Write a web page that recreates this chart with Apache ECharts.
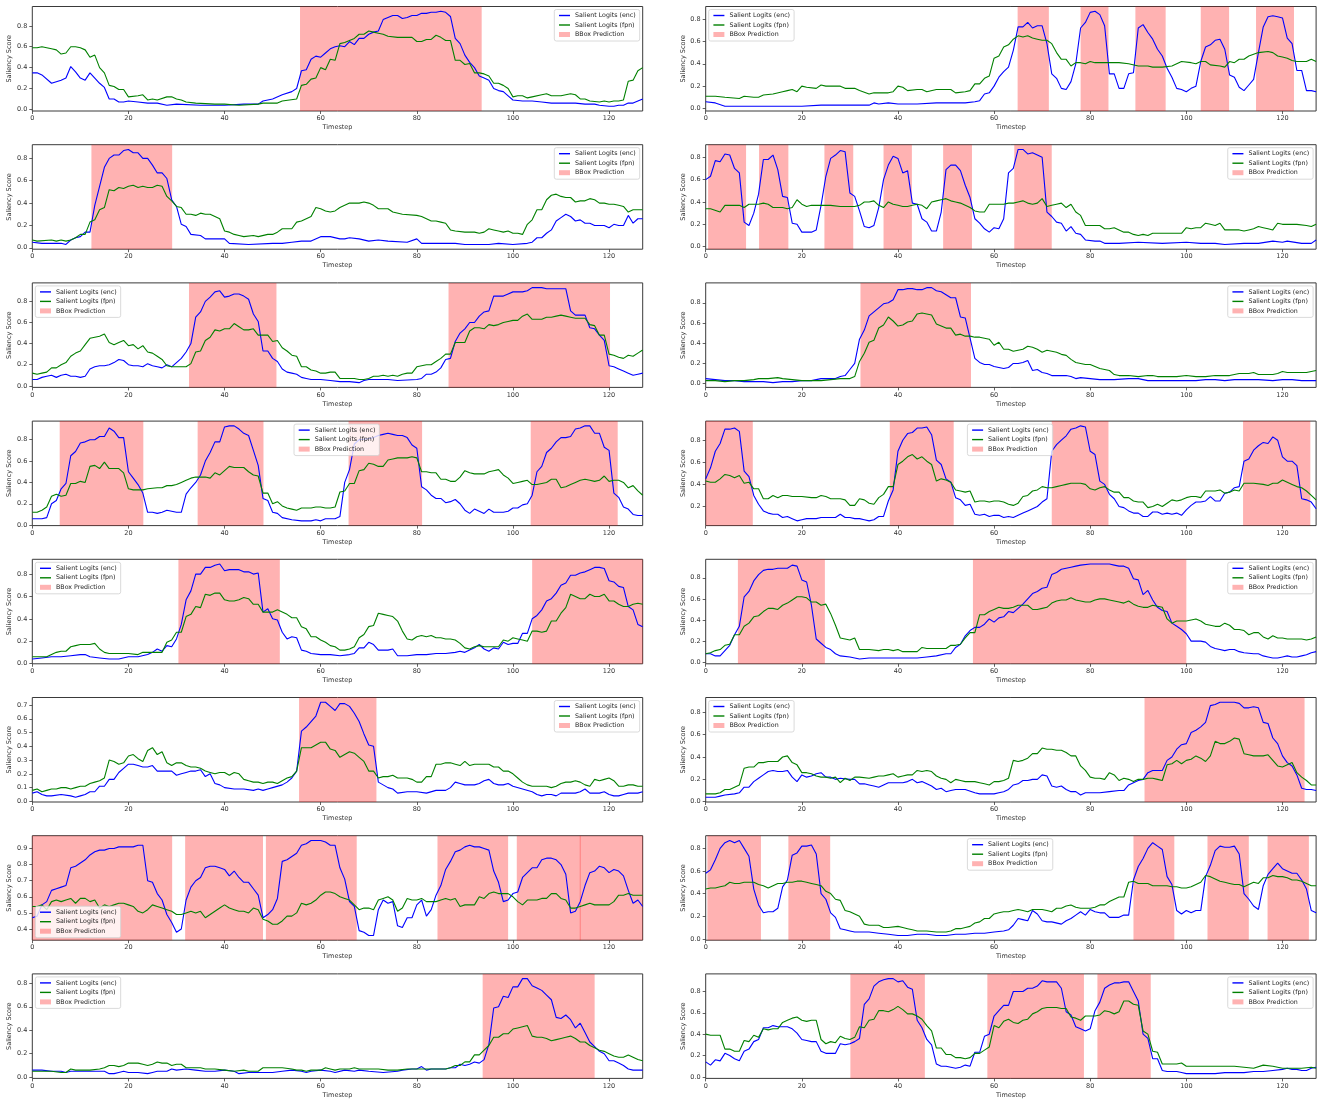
<!DOCTYPE html>
<html><head><meta charset="utf-8">
<script src="https://cdn.jsdelivr.net/npm/echarts@6/dist/echarts.min.js"></script>
<style>html,body{margin:0;padding:0;background:#fff}#c{width:1323px;height:1101px}</style>
</head><body><div id="c"></div>
<script>
// ---- data: [timestep, score] ----
const encL1=[[0,.35],[1,.35],[2,.33],[4,.25],[6,.28],[7,.30],[8,.41],[9,.36],[10,.30],[11,.28],[12,.35],[13,.30],[14,.25],[15,.21],[16,.10],[17,.10],[18,.07],[19,.07],[20,.08],[22,.07],[24,.06],[26,.06],[28,.04],[30,.05],[35,.04],[40,.04],[44,.05],[47,.05],[48,.08],[50,.10],[52,.14],[54,.17],[55,.20],[56,.37],[57,.38],[58,.48],[59,.51],[60,.50],[61,.54],[62,.58],[63,.60],[64,.61],[65,.60],[66,.65],[67,.62],[68,.68],[69,.68],[70,.72],[71,.74],[72,.75],[73,.86],[74,.88],[75,.90],[76,.90],[77,.87],[78,.88],[79,.90],[80,.90],[81,.92],[82,.92],[83,.93],[84,.93],[85,.94],[86,.93],[87,.89],[88,.68],[89,.63],[90,.52],[91,.45],[92,.40],[93,.32],[94,.30],[95,.28],[96,.20],[97,.18],[98,.17],[99,.13],[100,.09],[102,.08],[104,.08],[106,.07],[108,.06],[110,.06],[113,.06],[115,.05],[117,.05],[118,.04],[120,.03],[121,.03],[122,.04],[123,.04],[124,.06],[125,.06],[126,.08],[127,.10]];
const fpnL1=[[0,.59],[1,.59],[2,.60],[3,.59],[4,.58],[5,.57],[6,.53],[7,.54],[8,.60],[9,.60],[10,.59],[11,.57],[12,.50],[13,.52],[14,.40],[15,.35],[16,.23],[17,.22],[18,.19],[19,.19],[20,.12],[22,.13],[23,.14],[24,.09],[25,.10],[26,.09],[28,.12],[29,.12],[30,.10],[31,.09],[32,.07],[34,.06],[38,.05],[40,.05],[43,.04],[47,.05],[48,.06],[51,.06],[52,.08],[55,.10],[56,.23],[57,.24],[58,.29],[59,.30],[60,.40],[61,.38],[62,.48],[63,.47],[64,.63],[65,.64],[66,.66],[67,.68],[68,.72],[69,.72],[70,.75],[71,.74],[72,.73],[73,.72],[74,.70],[76,.69],[78,.69],[79,.69],[80,.65],[81,.65],[82,.67],[83,.67],[84,.71],[85,.69],[86,.66],[87,.66],[88,.47],[89,.47],[90,.43],[91,.44],[92,.35],[93,.35],[94,.34],[95,.32],[96,.25],[97,.25],[98,.23],[99,.20],[100,.12],[101,.13],[102,.13],[103,.11],[104,.12],[106,.14],[107,.15],[108,.13],[110,.13],[112,.15],[113,.14],[114,.10],[115,.10],[116,.08],[118,.07],[119,.08],[120,.07],[121,.08],[122,.08],[123,.09],[124,.27],[125,.28],[126,.37],[127,.40]];
const boxL1=[[55.7,93.5]];

const encR1=[[0,.06],[2,.05],[4,.02],[10,.02],[14,.02],[20,.02],[24,.03],[30,.03],[34,.03],[35,.05],[36,.04],[38,.05],[40,.04],[44,.04],[48,.05],[54,.05],[56,.06],[57,.07],[58,.13],[59,.14],[60,.20],[61,.28],[62,.33],[63,.37],[64,.52],[65,.73],[66,.73],[67,.77],[68,.72],[69,.74],[70,.74],[71,.58],[72,.31],[73,.27],[74,.18],[75,.17],[76,.24],[77,.40],[78,.72],[79,.77],[80,.86],[81,.87],[82,.84],[83,.74],[84,.31],[85,.31],[86,.18],[87,.18],[88,.31],[89,.32],[90,.72],[91,.75],[92,.68],[93,.62],[94,.53],[95,.47],[96,.36],[97,.28],[98,.18],[99,.17],[100,.15],[101,.18],[102,.20],[103,.42],[104,.55],[105,.57],[106,.61],[107,.62],[108,.53],[109,.30],[110,.28],[111,.19],[112,.16],[113,.21],[114,.26],[115,.50],[116,.73],[117,.82],[118,.83],[119,.82],[120,.81],[121,.63],[122,.58],[123,.34],[124,.34],[125,.16],[126,.16],[127,.15]];
const fpnR1=[[0,.11],[2,.11],[4,.10],[7,.09],[8,.11],[10,.10],[11,.10],[12,.12],[14,.13],[16,.15],[17,.16],[18,.17],[19,.15],[20,.20],[21,.19],[23,.18],[24,.21],[25,.20],[28,.20],[29,.18],[31,.18],[32,.16],[34,.13],[35,.14],[38,.14],[39,.15],[40,.20],[41,.19],[42,.16],[44,.17],[45,.17],[46,.15],[48,.17],[51,.17],[52,.14],[54,.15],[55,.16],[56,.22],[57,.22],[58,.27],[59,.29],[60,.45],[61,.47],[62,.55],[63,.57],[64,.62],[65,.65],[66,.64],[67,.65],[68,.63],[69,.62],[70,.61],[71,.61],[72,.58],[73,.50],[74,.44],[75,.44],[76,.38],[77,.41],[78,.41],[79,.40],[80,.42],[81,.41],[82,.41],[84,.41],[86,.41],[88,.40],[90,.38],[92,.38],[93,.37],[95,.37],[97,.38],[99,.42],[101,.41],[102,.40],[103,.42],[104,.42],[105,.39],[107,.38],[108,.37],[109,.42],[110,.41],[111,.44],[112,.44],[113,.47],[115,.50],[117,.51],[118,.50],[119,.47],[120,.46],[121,.45],[122,.43],[123,.42],[125,.42],[126,.44],[127,.42]];
const boxR1=[[64.9,71.4],[78.0,83.8],[89.4,95.7],[103.0,108.9],[114.5,122.4]];

const encL2=[[0,.05],[2,.04],[6,.04],[7,.03],[8,.07],[9,.09],[10,.10],[11,.14],[12,.14],[13,.38],[14,.55],[15,.72],[16,.80],[17,.83],[18,.83],[19,.87],[20,.88],[21,.85],[22,.85],[23,.80],[24,.80],[25,.74],[26,.67],[27,.67],[28,.62],[29,.43],[30,.37],[31,.21],[32,.19],[33,.12],[35,.11],[36,.08],[40,.08],[41,.04],[45,.03],[50,.04],[52,.04],[54,.05],[56,.06],[58,.06],[60,.10],[62,.10],[64,.08],[65,.08],[66,.09],[68,.08],[70,.06],[72,.07],[74,.06],[78,.05],[80,.08],[81,.04],[85,.04],[88,.04],[90,.03],[95,.03],[97,.04],[100,.03],[103,.04],[104,.05],[105,.09],[106,.09],[107,.13],[108,.16],[109,.24],[110,.27],[111,.30],[112,.28],[113,.24],[114,.25],[115,.22],[116,.22],[117,.20],[118,.20],[119,.20],[120,.18],[121,.21],[122,.20],[123,.20],[124,.29],[125,.22],[126,.26],[127,.26]];
const fpnL2=[[0,.07],[1,.06],[4,.07],[5,.06],[6,.07],[7,.06],[8,.07],[9,.09],[10,.12],[11,.12],[12,.23],[13,.25],[14,.34],[15,.36],[16,.52],[17,.51],[18,.54],[19,.53],[20,.55],[21,.56],[22,.54],[23,.55],[24,.54],[25,.54],[26,.56],[27,.55],[28,.46],[29,.42],[30,.37],[31,.36],[32,.30],[33,.30],[34,.29],[35,.31],[36,.30],[37,.30],[38,.28],[39,.26],[40,.15],[41,.14],[42,.12],[43,.11],[44,.10],[46,.11],[47,.10],[49,.12],[50,.12],[51,.14],[52,.17],[54,.17],[55,.23],[56,.24],[58,.28],[59,.36],[60,.35],[61,.33],[62,.32],[63,.33],[64,.36],[65,.38],[66,.40],[67,.40],[68,.40],[69,.41],[70,.40],[71,.38],[72,.35],[73,.35],[74,.35],[75,.32],[77,.30],[80,.29],[81,.28],[82,.26],[83,.24],[84,.24],[85,.23],[86,.22],[87,.16],[88,.15],[90,.14],[92,.14],[93,.13],[94,.14],[95,.17],[96,.16],[97,.15],[98,.14],[99,.15],[100,.13],[101,.13],[102,.12],[103,.21],[104,.25],[105,.34],[106,.34],[107,.43],[108,.47],[109,.48],[110,.46],[111,.45],[112,.45],[113,.41],[114,.42],[115,.42],[116,.44],[117,.43],[118,.40],[119,.40],[120,.39],[121,.39],[122,.38],[123,.37],[124,.32],[125,.34],[127,.34]];
const boxL2=[[12.3,29.1]];

const encR2=[[0,.60],[1,.63],[2,.77],[3,.76],[4,.83],[5,.82],[6,.70],[7,.66],[8,.22],[9,.19],[10,.30],[11,.47],[12,.78],[13,.78],[14,.82],[15,.69],[16,.45],[17,.44],[18,.21],[19,.20],[20,.13],[22,.13],[23,.15],[24,.37],[25,.63],[26,.79],[27,.82],[28,.86],[29,.85],[30,.48],[31,.45],[32,.32],[33,.18],[34,.17],[35,.19],[36,.35],[37,.60],[38,.73],[39,.81],[40,.79],[41,.66],[42,.68],[43,.39],[44,.38],[45,.25],[46,.22],[47,.14],[48,.14],[49,.31],[50,.69],[51,.73],[52,.73],[53,.68],[54,.55],[55,.44],[56,.25],[57,.21],[58,.16],[59,.13],[60,.17],[61,.16],[62,.25],[63,.66],[64,.70],[65,.87],[66,.87],[67,.83],[68,.84],[69,.82],[70,.80],[71,.31],[72,.27],[73,.22],[74,.21],[75,.14],[76,.18],[77,.12],[78,.11],[79,.06],[81,.05],[82,.05],[83,.03],[86,.03],[90,.04],[95,.03],[100,.04],[103,.03],[106,.03],[108,.02],[112,.03],[115,.03],[118,.05],[120,.04],[121,.05],[124,.03],[126,.03],[127,.06]];
const fpnR2=[[0,.34],[1,.34],[3,.31],[4,.37],[5,.37],[6,.37],[7,.37],[8,.35],[9,.38],[10,.38],[11,.38],[12,.39],[13,.38],[14,.35],[15,.35],[16,.35],[17,.34],[18,.35],[19,.42],[20,.38],[21,.36],[22,.37],[24,.37],[26,.37],[28,.36],[30,.36],[31,.36],[32,.37],[33,.40],[34,.40],[35,.41],[36,.37],[37,.35],[38,.40],[39,.38],[40,.37],[41,.36],[42,.36],[43,.37],[44,.38],[45,.37],[46,.34],[47,.40],[48,.41],[49,.42],[50,.43],[51,.41],[52,.40],[53,.39],[54,.37],[55,.35],[56,.32],[57,.31],[58,.31],[59,.38],[60,.38],[62,.38],[63,.39],[64,.39],[65,.40],[66,.41],[67,.39],[68,.38],[69,.39],[70,.43],[71,.36],[72,.37],[73,.38],[74,.39],[75,.35],[76,.38],[77,.31],[78,.28],[79,.19],[80,.19],[81,.19],[82,.19],[83,.16],[84,.16],[85,.17],[86,.15],[87,.13],[88,.13],[89,.11],[90,.10],[91,.11],[92,.10],[93,.12],[95,.12],[97,.12],[99,.12],[100,.17],[101,.16],[102,.17],[103,.17],[104,.21],[105,.20],[106,.19],[107,.21],[108,.15],[111,.15],[112,.14],[113,.15],[114,.16],[115,.18],[116,.17],[117,.16],[118,.15],[119,.21],[120,.20],[123,.20],[125,.19],[126,.18],[127,.20]];
const boxR2=[[0.5,8.4],[11.1,17.2],[24.7,30.7],[37.0,42.9],[49.4,55.4],[64.2,72.0]];

const encL3=[[0,.06],[1,.06],[2,.08],[3,.09],[4,.10],[5,.08],[6,.10],[7,.11],[8,.09],[9,.09],[10,.08],[11,.09],[12,.16],[13,.18],[14,.19],[15,.19],[16,.20],[17,.22],[18,.25],[19,.24],[20,.20],[21,.19],[22,.19],[23,.18],[24,.21],[25,.19],[26,.18],[27,.17],[28,.20],[29,.18],[30,.22],[31,.26],[32,.32],[33,.40],[34,.65],[35,.70],[36,.80],[37,.84],[38,.89],[39,.90],[40,.84],[41,.85],[42,.87],[43,.87],[44,.85],[45,.82],[46,.68],[47,.61],[48,.33],[49,.33],[50,.26],[51,.23],[52,.16],[53,.13],[54,.12],[55,.11],[56,.08],[57,.07],[58,.06],[60,.06],[62,.05],[64,.04],[66,.04],[68,.03],[69,.05],[70,.06],[74,.06],[76,.05],[80,.06],[81,.07],[82,.11],[83,.11],[84,.13],[85,.17],[86,.25],[87,.26],[88,.42],[89,.50],[90,.54],[91,.60],[92,.60],[93,.66],[94,.70],[95,.71],[96,.85],[97,.85],[98,.85],[99,.87],[100,.89],[101,.89],[102,.89],[103,.90],[104,.93],[105,.93],[106,.93],[107,.92],[108,.92],[110,.92],[111,.92],[112,.71],[113,.67],[114,.67],[115,.67],[116,.55],[117,.54],[118,.48],[119,.43],[120,.19],[121,.18],[122,.16],[123,.14],[124,.12],[125,.10],[126,.11],[127,.12]];
const fpnL3=[[0,.12],[1,.11],[2,.12],[3,.13],[4,.17],[5,.17],[6,.20],[7,.22],[8,.28],[9,.31],[10,.33],[11,.39],[12,.45],[13,.46],[14,.47],[15,.49],[16,.41],[17,.39],[18,.41],[19,.43],[20,.38],[21,.39],[22,.35],[23,.38],[24,.32],[25,.31],[26,.28],[27,.25],[28,.19],[29,.18],[30,.18],[31,.18],[32,.18],[33,.21],[34,.32],[35,.33],[36,.43],[37,.46],[38,.53],[39,.52],[40,.54],[41,.54],[42,.59],[43,.56],[44,.53],[45,.53],[46,.54],[47,.48],[48,.48],[49,.48],[50,.42],[51,.43],[52,.36],[53,.33],[54,.29],[55,.28],[56,.18],[57,.18],[58,.15],[59,.14],[60,.12],[61,.12],[62,.13],[63,.13],[64,.07],[66,.07],[67,.07],[68,.06],[69,.06],[70,.07],[71,.09],[72,.09],[73,.10],[74,.09],[75,.10],[76,.09],[77,.11],[78,.12],[79,.12],[80,.18],[81,.19],[82,.20],[83,.20],[84,.23],[85,.26],[86,.30],[87,.30],[88,.41],[89,.41],[90,.41],[91,.52],[92,.55],[93,.55],[94,.54],[95,.58],[96,.57],[97,.58],[98,.60],[99,.61],[100,.62],[101,.62],[102,.66],[103,.68],[104,.63],[105,.63],[106,.63],[107,.65],[108,.65],[109,.66],[110,.67],[111,.66],[112,.65],[113,.64],[114,.64],[115,.64],[116,.58],[117,.57],[118,.48],[119,.48],[120,.30],[121,.29],[122,.27],[123,.26],[124,.29],[125,.28],[126,.31],[127,.34]];
const boxL3=[[32.6,50.8],[86.6,120.2]];

const encR3=[[0,.05],[2,.04],[4,.03],[6,.03],[8,.02],[10,.02],[12,.02],[14,.01],[16,.02],[18,.02],[20,.03],[22,.03],[24,.05],[26,.05],[27,.05],[28,.07],[29,.08],[30,.14],[31,.20],[32,.44],[33,.53],[34,.67],[35,.71],[36,.75],[37,.79],[38,.80],[39,.83],[40,.93],[41,.93],[42,.94],[43,.94],[44,.93],[45,.93],[46,.95],[47,.95],[48,.92],[49,.91],[50,.88],[51,.85],[52,.85],[53,.66],[54,.65],[55,.45],[56,.25],[57,.21],[58,.19],[59,.19],[60,.17],[61,.16],[62,.15],[63,.16],[64,.20],[65,.20],[66,.21],[67,.23],[68,.13],[69,.14],[70,.11],[71,.10],[72,.08],[75,.08],[76,.07],[77,.05],[78,.06],[80,.05],[82,.04],[85,.04],[88,.05],[90,.05],[92,.03],[95,.03],[98,.03],[102,.03],[104,.04],[106,.04],[108,.03],[110,.04],[112,.04],[115,.04],[118,.03],[120,.04],[122,.04],[124,.03],[127,.03]];
const fpnR3=[[0,.03],[2,.03],[4,.02],[6,.03],[8,.03],[10,.04],[11,.05],[13,.05],[15,.06],[16,.05],[18,.04],[20,.03],[22,.03],[24,.03],[26,.04],[28,.05],[30,.05],[31,.07],[32,.22],[33,.30],[34,.41],[35,.43],[36,.55],[37,.58],[38,.66],[39,.62],[40,.57],[41,.58],[42,.61],[43,.62],[44,.69],[45,.70],[46,.69],[47,.68],[48,.59],[49,.57],[50,.55],[51,.55],[52,.48],[53,.49],[54,.47],[55,.47],[56,.46],[57,.46],[58,.45],[59,.44],[60,.38],[61,.41],[62,.34],[63,.34],[64,.32],[65,.33],[66,.34],[67,.37],[68,.36],[69,.34],[70,.31],[71,.33],[72,.32],[73,.31],[74,.29],[75,.28],[76,.24],[77,.21],[78,.20],[79,.19],[80,.19],[81,.17],[82,.15],[83,.14],[84,.13],[85,.09],[86,.08],[88,.08],[90,.07],[92,.08],[93,.08],[94,.07],[96,.07],[98,.07],[100,.08],[102,.07],[104,.07],[106,.08],[108,.08],[109,.08],[110,.09],[111,.10],[113,.10],[114,.11],[115,.09],[118,.09],[119,.10],[120,.12],[121,.11],[124,.11],[125,.11],[126,.12],[127,.13]];
const boxR3=[[32.2,55.2]];

const encL4=[[0,.06],[2,.06],[3,.07],[4,.20],[5,.23],[6,.34],[7,.39],[8,.65],[9,.69],[10,.77],[11,.78],[12,.80],[13,.80],[14,.83],[15,.83],[16,.91],[17,.88],[18,.82],[19,.82],[20,.50],[21,.44],[22,.38],[23,.30],[24,.12],[25,.12],[26,.11],[27,.12],[28,.14],[29,.13],[30,.12],[31,.12],[32,.29],[33,.35],[34,.40],[35,.47],[36,.60],[37,.68],[38,.78],[39,.78],[40,.92],[41,.93],[42,.93],[43,.90],[44,.86],[45,.84],[46,.70],[47,.56],[48,.25],[49,.23],[50,.12],[51,.11],[52,.07],[54,.05],[56,.04],[58,.04],[59,.05],[60,.04],[61,.06],[63,.06],[64,.08],[65,.40],[66,.52],[67,.76],[68,.80],[70,.81],[71,.82],[72,.84],[73,.85],[74,.86],[75,.85],[76,.84],[77,.84],[78,.82],[79,.75],[80,.72],[81,.36],[82,.33],[83,.28],[84,.25],[85,.25],[86,.21],[87,.22],[88,.24],[89,.20],[90,.14],[91,.11],[92,.15],[93,.13],[94,.11],[95,.15],[96,.12],[97,.12],[98,.12],[99,.13],[100,.16],[101,.16],[102,.19],[103,.20],[104,.28],[105,.50],[106,.55],[107,.68],[108,.72],[109,.78],[110,.82],[111,.82],[112,.83],[113,.90],[114,.91],[115,.93],[116,.93],[117,.86],[118,.86],[119,.73],[120,.70],[121,.30],[122,.26],[123,.17],[124,.15],[125,.10],[126,.09],[127,.09]];
const fpnL4=[[0,.12],[1,.12],[2,.14],[3,.17],[4,.27],[5,.29],[6,.27],[7,.28],[8,.39],[9,.39],[10,.41],[11,.40],[12,.55],[13,.56],[14,.53],[15,.59],[16,.53],[17,.53],[18,.53],[19,.49],[20,.34],[21,.33],[22,.33],[23,.33],[24,.34],[26,.35],[27,.35],[28,.37],[29,.37],[30,.38],[31,.40],[32,.42],[33,.44],[34,.45],[35,.45],[36,.45],[37,.44],[38,.49],[39,.47],[40,.51],[41,.55],[42,.54],[44,.54],[45,.50],[46,.47],[47,.46],[48,.30],[49,.30],[50,.20],[51,.22],[52,.18],[53,.16],[54,.15],[55,.14],[56,.16],[57,.16],[58,.16],[59,.17],[60,.17],[61,.16],[62,.16],[63,.17],[64,.31],[65,.32],[66,.39],[67,.39],[68,.51],[69,.52],[70,.58],[71,.57],[72,.55],[73,.55],[74,.61],[75,.62],[76,.63],[78,.63],[79,.64],[80,.63],[81,.50],[82,.50],[83,.49],[84,.49],[85,.43],[86,.43],[87,.41],[88,.41],[89,.45],[90,.51],[91,.49],[92,.48],[93,.48],[94,.48],[95,.50],[96,.51],[97,.52],[98,.47],[99,.44],[100,.39],[101,.40],[102,.41],[103,.42],[104,.38],[105,.38],[106,.39],[107,.40],[108,.43],[109,.43],[110,.35],[111,.36],[112,.38],[113,.40],[114,.42],[115,.43],[116,.42],[117,.41],[118,.42],[119,.46],[120,.41],[121,.42],[122,.42],[123,.40],[124,.35],[125,.37],[126,.32],[127,.28]];
const boxL4=[[5.7,23.1],[34.4,48.1],[65.8,81.1],[103.7,121.8]];

const encR4=[[0,.45],[1,.55],[2,.70],[3,.77],[4,.90],[5,.90],[6,.91],[7,.88],[8,.52],[9,.47],[10,.30],[11,.22],[12,.16],[13,.14],[14,.13],[15,.13],[16,.10],[17,.11],[18,.09],[19,.07],[20,.08],[21,.09],[22,.09],[23,.09],[24,.10],[26,.10],[27,.10],[28,.13],[29,.10],[30,.10],[31,.09],[32,.09],[33,.08],[34,.07],[35,.08],[36,.11],[37,.11],[38,.25],[39,.35],[40,.70],[41,.80],[42,.86],[43,.87],[44,.91],[45,.91],[46,.92],[47,.85],[48,.62],[49,.58],[50,.45],[51,.42],[52,.28],[53,.26],[54,.21],[55,.22],[56,.13],[57,.12],[58,.13],[59,.11],[60,.12],[61,.12],[62,.10],[63,.11],[64,.10],[65,.12],[66,.14],[67,.16],[68,.18],[69,.20],[70,.24],[71,.27],[72,.70],[73,.76],[74,.80],[75,.84],[76,.90],[77,.91],[78,.93],[79,.92],[80,.70],[81,.67],[82,.43],[83,.40],[84,.31],[85,.27],[86,.20],[87,.19],[88,.16],[89,.14],[90,.14],[91,.11],[92,.11],[93,.15],[94,.15],[95,.13],[96,.14],[97,.13],[98,.14],[99,.12],[100,.17],[101,.21],[102,.24],[103,.24],[104,.25],[105,.29],[106,.25],[107,.25],[108,.32],[109,.33],[110,.37],[111,.38],[112,.61],[113,.63],[114,.71],[115,.75],[116,.78],[117,.77],[118,.83],[119,.80],[120,.65],[121,.61],[122,.61],[123,.57],[124,.27],[125,.26],[126,.24],[127,.18]];
const fpnR4=[[0,.43],[1,.42],[2,.42],[3,.45],[4,.49],[5,.48],[6,.46],[7,.48],[8,.41],[9,.42],[10,.36],[11,.36],[12,.27],[13,.27],[14,.30],[15,.28],[16,.30],[17,.30],[18,.29],[20,.29],[22,.28],[23,.28],[24,.30],[25,.29],[26,.27],[28,.27],[29,.26],[30,.21],[31,.21],[32,.27],[33,.26],[34,.23],[35,.22],[36,.28],[37,.31],[38,.38],[39,.38],[40,.58],[41,.61],[42,.65],[43,.67],[44,.63],[45,.65],[46,.61],[47,.58],[48,.43],[49,.45],[50,.44],[51,.42],[52,.35],[53,.34],[54,.33],[55,.34],[56,.24],[57,.25],[58,.25],[59,.24],[60,.25],[61,.25],[62,.24],[63,.22],[64,.21],[65,.23],[66,.29],[67,.30],[68,.34],[69,.35],[70,.38],[71,.37],[72,.37],[73,.38],[74,.39],[75,.40],[76,.41],[77,.41],[78,.41],[79,.40],[80,.36],[81,.35],[82,.37],[83,.38],[84,.35],[85,.33],[86,.33],[87,.28],[88,.28],[89,.25],[90,.24],[91,.24],[92,.19],[93,.20],[94,.22],[95,.20],[96,.23],[97,.26],[98,.25],[99,.26],[100,.28],[101,.29],[102,.29],[103,.28],[104,.34],[105,.34],[106,.34],[107,.35],[108,.32],[109,.33],[110,.35],[111,.34],[112,.41],[114,.41],[116,.40],[117,.39],[118,.41],[119,.41],[120,.44],[121,.42],[122,.40],[123,.38],[124,.37],[125,.34],[126,.30],[127,.26]];
const boxR4=[[0,9.8],[38.3,51.6],[72.0,83.8],[111.8,125.8]];

const encL5=[[0,.04],[2,.05],[4,.06],[6,.06],[8,.07],[10,.08],[11,.08],[12,.06],[14,.05],[16,.04],[18,.04],[20,.06],[22,.06],[24,.08],[25,.10],[26,.13],[27,.11],[28,.16],[29,.15],[30,.22],[31,.35],[32,.57],[33,.65],[34,.80],[35,.80],[36,.86],[37,.86],[38,.88],[39,.89],[40,.83],[41,.84],[42,.84],[43,.84],[44,.82],[45,.82],[46,.80],[47,.81],[48,.46],[49,.49],[50,.40],[51,.39],[52,.28],[53,.22],[54,.24],[55,.23],[56,.12],[57,.11],[58,.09],[60,.08],[62,.08],[64,.07],[66,.08],[67,.09],[68,.14],[69,.14],[70,.19],[71,.17],[72,.12],[74,.12],[75,.13],[76,.07],[78,.07],[80,.08],[82,.08],[84,.09],[86,.09],[88,.10],[89,.11],[90,.10],[91,.12],[92,.14],[93,.17],[94,.13],[95,.11],[96,.14],[97,.13],[98,.19],[99,.17],[100,.18],[101,.18],[102,.27],[103,.27],[104,.40],[105,.43],[106,.48],[107,.56],[108,.58],[109,.63],[110,.70],[111,.72],[112,.79],[113,.79],[114,.81],[115,.82],[116,.84],[117,.86],[118,.86],[119,.85],[120,.74],[121,.73],[122,.69],[123,.68],[124,.51],[125,.48],[126,.35],[127,.33]];
const fpnL5=[[0,.06],[2,.06],[3,.06],[4,.08],[5,.10],[6,.11],[7,.11],[8,.15],[9,.16],[10,.17],[11,.17],[12,.17],[13,.18],[14,.13],[15,.10],[16,.09],[18,.09],[20,.09],[22,.08],[23,.10],[25,.10],[27,.10],[28,.19],[29,.21],[30,.28],[31,.28],[32,.42],[33,.44],[34,.51],[35,.50],[36,.62],[37,.61],[38,.63],[39,.63],[40,.57],[41,.56],[42,.56],[43,.57],[44,.59],[45,.58],[46,.53],[47,.53],[48,.46],[49,.46],[50,.46],[51,.48],[52,.46],[53,.44],[54,.41],[55,.41],[56,.33],[57,.31],[58,.24],[59,.24],[60,.21],[61,.19],[62,.16],[63,.15],[64,.12],[65,.12],[66,.13],[67,.15],[68,.23],[69,.26],[70,.33],[71,.34],[72,.45],[73,.44],[74,.43],[75,.42],[76,.38],[77,.29],[78,.22],[79,.21],[80,.24],[81,.25],[82,.24],[83,.25],[84,.23],[85,.23],[86,.22],[87,.22],[88,.21],[89,.18],[90,.14],[91,.13],[92,.15],[93,.16],[94,.15],[95,.15],[96,.15],[97,.15],[98,.21],[99,.20],[100,.23],[101,.22],[102,.21],[103,.20],[104,.29],[105,.29],[106,.28],[107,.29],[108,.38],[109,.38],[110,.45],[111,.50],[112,.62],[113,.60],[114,.58],[115,.58],[116,.62],[117,.60],[118,.60],[119,.62],[120,.56],[121,.56],[122,.53],[123,.51],[124,.51],[125,.53],[126,.54],[127,.53]];
const boxL5=[[30.4,51.5],[104.0,127]];

const encR5=[[0,.08],[1,.08],[2,.06],[3,.06],[4,.11],[5,.16],[6,.26],[7,.34],[8,.62],[9,.67],[10,.77],[11,.83],[12,.87],[13,.88],[14,.88],[15,.89],[16,.89],[17,.89],[18,.92],[19,.91],[20,.78],[21,.76],[22,.54],[23,.22],[24,.18],[25,.14],[26,.12],[27,.08],[28,.06],[30,.05],[31,.04],[32,.03],[34,.04],[38,.04],[40,.04],[44,.04],[46,.05],[48,.06],[50,.08],[51,.08],[52,.14],[53,.17],[54,.25],[55,.30],[56,.33],[57,.33],[58,.36],[59,.41],[60,.38],[61,.42],[62,.43],[63,.48],[64,.47],[65,.51],[66,.55],[67,.60],[68,.65],[69,.67],[70,.70],[71,.71],[72,.83],[73,.85],[74,.88],[75,.89],[76,.90],[77,.91],[78,.92],[80,.93],[82,.93],[84,.93],[85,.92],[86,.91],[87,.91],[88,.89],[89,.79],[90,.78],[91,.64],[92,.68],[93,.59],[94,.52],[95,.49],[96,.48],[97,.37],[98,.34],[99,.31],[100,.27],[101,.20],[102,.20],[103,.20],[104,.19],[105,.15],[106,.13],[107,.12],[108,.11],[109,.12],[110,.12],[111,.10],[112,.09],[114,.08],[115,.08],[116,.06],[117,.05],[118,.04],[119,.04],[120,.05],[121,.06],[122,.05],[123,.05],[124,.06],[125,.07],[126,.09],[127,.10]];
const fpnR5=[[0,.08],[1,.09],[2,.11],[3,.12],[4,.16],[5,.17],[6,.26],[7,.26],[8,.34],[9,.37],[10,.43],[11,.44],[12,.48],[13,.51],[14,.51],[15,.50],[16,.54],[17,.56],[18,.59],[19,.62],[20,.62],[21,.61],[22,.57],[23,.57],[24,.54],[25,.55],[26,.46],[27,.35],[28,.23],[29,.22],[30,.21],[31,.23],[32,.12],[34,.12],[36,.11],[37,.12],[38,.12],[39,.11],[40,.12],[41,.10],[42,.10],[44,.10],[45,.14],[46,.13],[48,.13],[50,.13],[51,.16],[52,.16],[53,.17],[54,.23],[55,.28],[56,.28],[57,.45],[58,.45],[59,.48],[60,.50],[61,.52],[62,.51],[63,.51],[64,.52],[65,.54],[66,.54],[67,.54],[68,.50],[69,.50],[70,.51],[71,.52],[72,.56],[73,.58],[74,.59],[75,.59],[76,.61],[77,.59],[78,.58],[79,.57],[80,.57],[81,.59],[82,.60],[83,.60],[84,.59],[85,.58],[86,.57],[87,.56],[88,.58],[89,.55],[90,.53],[91,.52],[92,.52],[93,.54],[94,.53],[95,.52],[96,.41],[97,.37],[98,.39],[99,.39],[100,.39],[101,.40],[102,.41],[103,.39],[104,.36],[105,.35],[106,.34],[107,.34],[108,.37],[109,.35],[110,.31],[111,.31],[112,.30],[113,.26],[114,.28],[115,.28],[116,.24],[117,.22],[118,.25],[119,.23],[120,.23],[121,.22],[122,.22],[124,.22],[125,.21],[126,.22],[127,.24]];
const boxR5=[[6.7,24.8],[55.6,100]];

const encL6=[[0,.06],[1,.07],[2,.05],[3,.04],[4,.04],[6,.05],[8,.04],[9,.03],[10,.04],[11,.05],[12,.07],[13,.07],[14,.11],[15,.11],[16,.16],[17,.16],[18,.21],[19,.24],[20,.27],[21,.27],[22,.26],[23,.25],[24,.25],[25,.26],[26,.22],[27,.22],[28,.22],[29,.22],[30,.19],[31,.20],[32,.21],[33,.22],[34,.22],[35,.23],[36,.18],[37,.20],[38,.13],[39,.12],[40,.10],[42,.09],[44,.09],[46,.08],[47,.09],[48,.08],[49,.09],[50,.10],[52,.12],[53,.14],[54,.17],[55,.22],[56,.51],[57,.54],[58,.58],[59,.62],[60,.72],[61,.72],[62,.69],[63,.66],[64,.71],[65,.71],[66,.69],[67,.64],[68,.58],[69,.49],[70,.41],[71,.40],[72,.14],[73,.12],[74,.10],[75,.09],[76,.06],[78,.07],[80,.07],[82,.06],[84,.08],[86,.08],[87,.10],[88,.14],[89,.13],[90,.12],[91,.12],[92,.12],[93,.13],[94,.15],[95,.16],[96,.13],[97,.12],[98,.12],[99,.13],[100,.11],[102,.09],[104,.07],[105,.05],[106,.04],[107,.05],[108,.05],[109,.04],[110,.06],[112,.06],[113,.06],[114,.07],[115,.09],[116,.06],[118,.06],[119,.07],[120,.05],[121,.04],[122,.04],[123,.05],[124,.06],[126,.06],[127,.07]];
const fpnL6=[[0,.08],[1,.09],[2,.07],[3,.08],[4,.09],[5,.09],[6,.10],[7,.10],[8,.09],[9,.10],[10,.11],[11,.11],[12,.13],[13,.14],[14,.15],[15,.17],[16,.30],[17,.29],[18,.27],[19,.28],[20,.33],[21,.34],[22,.31],[23,.29],[24,.37],[25,.39],[26,.34],[27,.36],[28,.28],[29,.26],[30,.28],[31,.28],[32,.26],[33,.25],[34,.25],[35,.24],[36,.22],[37,.21],[38,.20],[39,.21],[40,.21],[41,.19],[42,.21],[43,.20],[44,.16],[45,.15],[46,.14],[47,.14],[48,.13],[49,.14],[50,.14],[51,.13],[52,.15],[53,.17],[54,.18],[55,.22],[56,.39],[57,.39],[58,.39],[59,.41],[60,.43],[61,.43],[62,.38],[63,.37],[64,.32],[65,.34],[66,.36],[67,.35],[68,.32],[69,.29],[70,.22],[71,.22],[72,.17],[73,.18],[74,.18],[75,.19],[76,.17],[78,.17],[79,.16],[80,.14],[81,.14],[82,.18],[83,.18],[84,.27],[85,.27],[86,.28],[87,.28],[88,.27],[89,.26],[90,.29],[91,.26],[92,.27],[93,.27],[94,.27],[95,.27],[96,.25],[97,.25],[98,.22],[99,.22],[100,.20],[101,.17],[102,.14],[103,.12],[104,.11],[106,.11],[107,.11],[108,.10],[109,.11],[110,.13],[111,.14],[112,.14],[113,.15],[114,.14],[115,.12],[116,.11],[117,.16],[118,.15],[119,.16],[120,.17],[121,.15],[122,.11],[123,.11],[124,.12],[125,.12],[126,.11],[127,.11]];
const boxL6=[[55.5,71.6]];

const encR6=[[0,.04],[2,.04],[3,.05],[4,.06],[6,.07],[7,.08],[8,.13],[9,.13],[10,.18],[11,.21],[12,.24],[13,.27],[14,.28],[15,.27],[16,.27],[17,.28],[18,.22],[19,.18],[20,.24],[21,.22],[22,.23],[23,.25],[24,.26],[25,.22],[26,.22],[27,.20],[28,.21],[30,.20],[31,.20],[32,.16],[33,.16],[34,.15],[35,.14],[36,.13],[37,.15],[38,.17],[39,.17],[40,.17],[41,.17],[42,.18],[43,.20],[44,.17],[45,.18],[46,.16],[47,.14],[48,.11],[49,.12],[50,.09],[51,.10],[52,.11],[54,.11],[56,.08],[57,.07],[58,.07],[60,.07],[61,.08],[62,.09],[63,.11],[64,.15],[65,.16],[66,.19],[67,.19],[68,.20],[69,.20],[70,.24],[71,.23],[72,.14],[73,.13],[74,.14],[75,.11],[76,.09],[77,.09],[78,.06],[79,.08],[80,.08],[82,.08],[84,.09],[86,.10],[87,.10],[88,.15],[89,.17],[90,.19],[91,.20],[92,.26],[93,.28],[94,.28],[95,.28],[96,.37],[97,.40],[98,.47],[99,.51],[100,.52],[101,.62],[102,.64],[103,.67],[104,.71],[105,.86],[106,.87],[107,.89],[108,.89],[110,.89],[111,.88],[112,.84],[113,.84],[114,.85],[115,.84],[116,.71],[117,.70],[118,.57],[119,.52],[120,.41],[121,.35],[122,.32],[123,.24],[124,.12],[125,.11],[126,.11],[127,.10]];
const fpnR6=[[0,.07],[2,.07],[3,.08],[4,.11],[5,.11],[6,.13],[7,.15],[8,.30],[9,.31],[10,.31],[11,.35],[12,.35],[13,.36],[14,.36],[15,.36],[16,.40],[17,.41],[18,.35],[19,.33],[20,.26],[21,.26],[22,.25],[23,.23],[24,.22],[25,.22],[26,.21],[27,.22],[28,.17],[29,.21],[30,.19],[31,.22],[32,.22],[34,.21],[35,.22],[36,.23],[37,.23],[38,.24],[39,.25],[40,.22],[41,.23],[42,.24],[43,.24],[44,.28],[45,.27],[46,.28],[47,.27],[48,.23],[49,.21],[50,.20],[51,.17],[52,.20],[53,.19],[54,.18],[55,.18],[56,.18],[57,.17],[58,.16],[59,.15],[60,.18],[61,.18],[62,.19],[63,.21],[64,.37],[65,.36],[66,.37],[67,.39],[68,.43],[69,.43],[70,.48],[71,.47],[72,.47],[73,.46],[74,.46],[75,.44],[76,.41],[77,.41],[78,.32],[79,.28],[80,.22],[81,.21],[82,.21],[83,.20],[84,.26],[85,.24],[86,.19],[87,.21],[88,.20],[89,.18],[90,.20],[91,.20],[92,.21],[93,.21],[94,.20],[95,.19],[96,.33],[97,.34],[98,.37],[99,.34],[100,.37],[101,.38],[102,.41],[103,.39],[104,.36],[105,.41],[106,.54],[107,.52],[108,.52],[109,.54],[110,.57],[111,.56],[112,.43],[113,.42],[114,.41],[115,.41],[116,.41],[117,.42],[118,.37],[119,.32],[120,.31],[121,.33],[122,.35],[123,.26],[124,.22],[125,.19],[126,.15],[127,.15]];
const boxR6=[[91.3,124.6]];

const encL7=[[0,.47],[1,.48],[2,.55],[3,.57],[4,.64],[5,.65],[6,.66],[7,.67],[8,.78],[9,.79],[10,.81],[11,.83],[12,.86],[13,.88],[14,.89],[15,.89],[16,.90],[17,.90],[18,.91],[19,.91],[20,.91],[21,.91],[22,.92],[23,.92],[24,.70],[25,.69],[26,.62],[27,.58],[28,.49],[29,.44],[30,.38],[31,.40],[32,.58],[33,.66],[34,.70],[35,.72],[36,.78],[37,.79],[38,.79],[39,.78],[40,.77],[41,.73],[42,.76],[43,.72],[44,.69],[45,.69],[46,.65],[47,.61],[48,.47],[49,.49],[50,.52],[51,.59],[52,.82],[53,.83],[54,.85],[55,.87],[56,.92],[57,.93],[58,.95],[59,.95],[60,.95],[61,.94],[62,.92],[63,.92],[64,.78],[65,.71],[66,.57],[67,.54],[68,.39],[69,.38],[70,.36],[71,.36],[72,.52],[73,.58],[74,.56],[75,.57],[76,.42],[77,.41],[78,.47],[79,.47],[80,.55],[81,.58],[82,.48],[83,.52],[84,.61],[85,.67],[86,.77],[87,.82],[88,.88],[89,.89],[90,.91],[91,.92],[92,.91],[93,.91],[94,.90],[95,.89],[96,.76],[97,.69],[98,.57],[99,.58],[100,.62],[101,.63],[102,.72],[103,.75],[104,.78],[105,.78],[106,.83],[107,.84],[108,.84],[109,.83],[110,.80],[111,.74],[112,.50],[113,.51],[114,.57],[115,.67],[116,.75],[117,.76],[118,.79],[119,.78],[120,.75],[121,.77],[122,.76],[123,.73],[124,.64],[125,.56],[126,.58],[127,.54]];
const fpnL7=[[0,.54],[1,.54],[2,.55],[3,.52],[4,.57],[5,.58],[6,.57],[7,.58],[8,.59],[9,.56],[10,.59],[11,.59],[12,.57],[13,.58],[14,.53],[15,.55],[16,.54],[17,.55],[18,.56],[19,.56],[20,.55],[21,.54],[22,.51],[23,.50],[24,.52],[25,.55],[26,.54],[27,.53],[28,.52],[29,.51],[30,.49],[31,.49],[32,.50],[33,.51],[34,.50],[35,.51],[36,.47],[37,.49],[38,.51],[39,.53],[40,.55],[41,.53],[42,.52],[43,.51],[44,.51],[45,.50],[46,.53],[47,.52],[48,.46],[49,.45],[50,.43],[51,.43],[52,.45],[53,.48],[54,.48],[55,.50],[56,.56],[57,.55],[58,.56],[59,.58],[60,.61],[61,.63],[62,.63],[63,.62],[64,.60],[65,.59],[66,.58],[67,.55],[68,.52],[69,.53],[70,.53],[71,.52],[72,.58],[73,.59],[74,.60],[75,.58],[76,.51],[77,.53],[78,.59],[79,.58],[80,.58],[81,.59],[82,.57],[83,.57],[84,.57],[85,.58],[86,.59],[87,.58],[88,.59],[89,.54],[90,.55],[91,.55],[92,.55],[93,.60],[94,.59],[95,.62],[96,.63],[97,.62],[98,.62],[99,.62],[100,.60],[101,.57],[102,.55],[103,.58],[104,.58],[105,.58],[106,.59],[107,.59],[108,.62],[109,.62],[110,.59],[111,.58],[112,.53],[113,.53],[114,.54],[115,.55],[116,.56],[117,.55],[118,.55],[119,.55],[120,.55],[121,.57],[122,.61],[123,.61],[124,.62],[125,.61],[126,.61],[127,.61]];
const boxL7=[[0,29.1],[31.8,48.0],[48.6,67.5],[84.3,99.0],[100.8,114.1],[113.9,127]];

const encR7=[[0,.58],[1,.61],[2,.70],[3,.80],[4,.85],[5,.87],[6,.85],[7,.87],[8,.80],[9,.73],[10,.44],[11,.30],[12,.23],[13,.24],[14,.24],[15,.27],[16,.46],[17,.52],[18,.74],[19,.76],[20,.82],[21,.82],[22,.83],[23,.75],[24,.40],[25,.35],[26,.23],[27,.19],[28,.09],[29,.08],[30,.07],[31,.06],[34,.06],[36,.05],[38,.04],[40,.03],[42,.03],[44,.04],[46,.04],[48,.03],[50,.03],[52,.04],[54,.04],[56,.05],[58,.05],[60,.06],[62,.07],[63,.08],[64,.12],[65,.18],[66,.17],[67,.16],[68,.25],[69,.22],[70,.16],[71,.15],[72,.15],[74,.13],[75,.16],[76,.18],[77,.21],[78,.24],[79,.21],[80,.26],[81,.24],[82,.23],[83,.23],[84,.19],[86,.19],[87,.21],[88,.21],[89,.52],[90,.64],[91,.71],[92,.80],[93,.85],[94,.82],[95,.79],[96,.55],[97,.48],[98,.25],[99,.22],[100,.25],[101,.23],[102,.25],[103,.25],[104,.55],[105,.65],[106,.78],[107,.82],[108,.81],[109,.81],[110,.82],[111,.75],[112,.40],[113,.35],[114,.29],[115,.26],[116,.47],[117,.57],[118,.62],[119,.67],[120,.62],[121,.60],[122,.58],[123,.58],[124,.52],[125,.44],[126,.25],[127,.23]];
const fpnR7=[[0,.44],[1,.45],[2,.45],[3,.46],[4,.47],[5,.50],[6,.49],[7,.49],[8,.50],[9,.50],[10,.50],[11,.48],[12,.47],[13,.45],[14,.47],[15,.49],[16,.49],[17,.50],[18,.50],[19,.51],[20,.51],[21,.50],[22,.49],[23,.48],[24,.47],[25,.42],[26,.40],[27,.35],[28,.34],[29,.25],[30,.24],[31,.22],[32,.20],[33,.13],[34,.12],[35,.12],[36,.12],[37,.10],[38,.10],[40,.11],[41,.10],[42,.09],[43,.08],[44,.07],[46,.07],[48,.06],[50,.06],[51,.07],[52,.09],[53,.09],[54,.10],[55,.11],[56,.14],[57,.15],[58,.18],[59,.18],[60,.22],[61,.23],[62,.24],[63,.24],[64,.25],[65,.26],[66,.25],[67,.24],[68,.26],[70,.26],[71,.25],[72,.24],[73,.27],[74,.27],[75,.29],[76,.30],[77,.28],[78,.27],[80,.27],[81,.28],[82,.30],[83,.30],[84,.33],[85,.35],[86,.37],[87,.37],[88,.50],[89,.51],[90,.49],[92,.49],[93,.47],[96,.47],[97,.46],[98,.46],[99,.45],[100,.45],[101,.46],[102,.48],[103,.50],[104,.56],[105,.55],[106,.53],[107,.51],[108,.50],[109,.49],[110,.48],[111,.48],[112,.46],[113,.48],[114,.50],[115,.49],[116,.54],[117,.54],[118,.56],[119,.55],[120,.55],[121,.54],[122,.52],[123,.52],[124,.51],[125,.49],[126,.47],[127,.47]];
const boxR7=[[0.35,11.5],[17.2,25.9],[89.0,97.5],[104.4,113.0],[116.9,125.5]];

const encL8=[[0,.06],[2,.06],[4,.05],[6,.05],[7,.04],[8,.05],[10,.05],[12,.05],[15,.05],[16,.03],[17,.03],[18,.04],[19,.05],[20,.04],[22,.04],[24,.03],[25,.04],[26,.05],[28,.05],[29,.07],[30,.06],[32,.07],[34,.06],[36,.05],[38,.05],[40,.06],[42,.05],[43,.03],[45,.04],[48,.04],[50,.04],[52,.05],[54,.06],[56,.05],[57,.04],[58,.05],[60,.06],[62,.05],[63,.04],[65,.06],[67,.05],[68,.06],[70,.05],[73,.04],[76,.05],[77,.06],[79,.07],[80,.07],[81,.09],[82,.06],[83,.07],[85,.07],[86,.07],[87,.08],[88,.08],[89,.11],[90,.10],[91,.11],[92,.13],[93,.12],[94,.15],[95,.28],[96,.59],[97,.60],[98,.69],[99,.68],[100,.77],[101,.77],[102,.84],[103,.84],[104,.78],[105,.76],[106,.74],[107,.70],[108,.66],[109,.51],[110,.50],[111,.53],[112,.49],[113,.42],[114,.46],[115,.38],[116,.30],[117,.26],[118,.22],[119,.20],[120,.14],[121,.14],[122,.12],[123,.10],[124,.07],[125,.06],[126,.06],[127,.06]];
const fpnL8=[[0,.05],[2,.05],[4,.05],[6,.04],[7,.04],[8,.07],[9,.06],[10,.06],[12,.06],[14,.07],[15,.08],[16,.10],[17,.10],[18,.09],[19,.10],[20,.12],[21,.12],[22,.12],[23,.11],[24,.10],[25,.11],[26,.13],[27,.12],[28,.12],[29,.10],[30,.11],[31,.11],[32,.08],[33,.08],[35,.08],[36,.07],[38,.07],[40,.06],[42,.05],[44,.06],[45,.05],[47,.05],[48,.08],[50,.08],[52,.08],[54,.07],[55,.06],[56,.06],[57,.05],[58,.06],[60,.06],[61,.08],[62,.07],[63,.06],[64,.07],[66,.07],[67,.08],[68,.07],[70,.07],[72,.07],[74,.06],[76,.06],[78,.07],[80,.07],[82,.07],[84,.07],[86,.07],[87,.08],[88,.10],[89,.10],[90,.13],[91,.13],[92,.19],[93,.19],[94,.23],[95,.27],[96,.34],[97,.34],[98,.37],[99,.37],[100,.41],[101,.42],[102,.43],[103,.44],[104,.35],[105,.34],[106,.34],[107,.33],[108,.31],[109,.32],[110,.33],[111,.34],[112,.35],[113,.33],[114,.30],[115,.30],[116,.27],[117,.25],[118,.23],[119,.22],[120,.20],[121,.18],[122,.17],[123,.17],[124,.19],[125,.17],[126,.15],[127,.14]];
const boxL8=[[93.7,117.0]];

const encR8=[[0,.14],[1,.11],[2,.16],[3,.15],[4,.22],[5,.20],[6,.17],[7,.15],[8,.24],[9,.26],[10,.33],[11,.35],[12,.46],[13,.46],[14,.48],[15,.47],[16,.47],[17,.47],[18,.45],[19,.41],[20,.35],[21,.34],[22,.33],[23,.33],[24,.24],[25,.22],[26,.22],[27,.22],[28,.31],[29,.30],[30,.31],[31,.33],[32,.36],[33,.68],[34,.73],[35,.85],[36,.89],[37,.91],[38,.92],[39,.92],[40,.89],[41,.90],[42,.84],[43,.82],[44,.53],[45,.46],[46,.35],[47,.30],[48,.12],[49,.10],[50,.10],[51,.09],[52,.08],[53,.09],[54,.11],[55,.10],[56,.23],[57,.23],[58,.38],[59,.40],[60,.57],[61,.62],[62,.67],[63,.67],[64,.80],[65,.80],[66,.80],[67,.83],[68,.83],[69,.85],[70,.90],[71,.89],[72,.89],[73,.89],[74,.83],[75,.61],[76,.58],[77,.47],[78,.45],[79,.43],[80,.45],[81,.62],[82,.70],[83,.83],[84,.86],[85,.88],[86,.88],[87,.89],[88,.89],[89,.80],[90,.71],[91,.40],[92,.36],[93,.17],[94,.17],[95,.06],[96,.05],[98,.05],[99,.04],[100,.03],[104,.03],[106,.03],[108,.04],[112,.04],[114,.05],[116,.05],[118,.06],[120,.07],[121,.08],[122,.07],[123,.07],[124,.06],[125,.06],[126,.08],[127,.09]];
const fpnR8=[[0,.40],[1,.39],[3,.39],[4,.26],[5,.26],[6,.24],[7,.24],[8,.34],[9,.33],[10,.39],[11,.37],[12,.45],[13,.44],[14,.45],[15,.45],[16,.51],[17,.53],[18,.55],[19,.56],[20,.53],[21,.52],[22,.53],[23,.53],[24,.35],[25,.31],[26,.33],[27,.32],[28,.38],[29,.36],[30,.35],[31,.37],[32,.47],[33,.46],[34,.53],[35,.54],[36,.62],[37,.62],[38,.61],[39,.63],[40,.66],[41,.63],[42,.59],[43,.59],[44,.57],[45,.54],[46,.48],[47,.43],[48,.27],[49,.27],[50,.21],[51,.21],[52,.18],[53,.18],[54,.17],[55,.18],[56,.22],[57,.22],[58,.25],[59,.28],[60,.48],[61,.46],[62,.52],[63,.54],[64,.51],[65,.50],[66,.53],[67,.54],[68,.59],[69,.61],[70,.64],[71,.65],[73,.65],[74,.64],[75,.64],[76,.56],[77,.55],[78,.53],[79,.57],[81,.57],[82,.58],[83,.62],[84,.61],[85,.59],[86,.61],[87,.71],[88,.71],[89,.68],[90,.67],[91,.43],[92,.40],[93,.24],[94,.23],[95,.12],[98,.12],[99,.13],[100,.10],[110,.10],[112,.09],[114,.08],[116,.11],[118,.10],[120,.08],[124,.08],[126,.09],[127,.08]];
const boxR8=[[30.1,45.6],[58.6,78.7],[81.5,92.6]];

const seriesNames=['Salient Logits (enc)','Salient Logits (fpn)','BBox Prediction'];
const xTickValues=[0,20,40,60,80,100,120];
// panels in reading order (row by row, left then right)
const encAll=[encL1,encR1,encL2,encR2,encL3,encR3,encL4,encR4,encL5,encR5,encL6,encR6,encL7,encR7,encL8,encR8];
const fpnAll=[fpnL1,fpnR1,fpnL2,fpnR2,fpnL3,fpnR3,fpnL4,fpnR4,fpnL5,fpnR5,fpnL6,fpnR6,fpnL7,fpnR7,fpnL8,fpnR8];
const boxAll=[boxL1,boxR1,boxL2,boxR2,boxL3,boxR3,boxL4,boxR4,boxL5,boxR5,boxL6,boxR6,boxL7,boxR7,boxL8,boxR8];
const yTickStep=[.2,.2,.2,.2,.2,.2,.2,.2,.2,.2,.1,.2,.1,.2,.2,.2];

// ---- layout / style ----
const legendLoc=['ur','ul','ur','ur','ul','ur','uc','uc','ul','ur','ur','ul','ll','uc','ul','ur'];
const W=1323,H=1101;
const colLeft=[32.3,705.7], GW=610.4, TOP0=6.5, ROW=138.2, GH=104.5;
const FONT='DejaVu Sans', AX='#3a3a3a', SPAN='rgba(255,0,0,0.3)';
const LEGW=87, LEGH=31;

const grids=[],xAxes=[],yAxes=[],series=[],legends=[];
for(let i=0;i<16;i++){
  const r=Math.floor(i/2),c=i%2;
  const left=colLeft[c], top=TOP0+r*ROW;
  grids.push({left:left,top:top,width:GW,height:GH,show:true,borderColor:AX,borderWidth:1,containLabel:false,outerBoundsMode:'none'});
  let mn=Infinity,mx=-Infinity;
  for(const arr of [encAll[i],fpnAll[i]]) for(const p of arr){mn=Math.min(mn,p[1]);mx=Math.max(mx,p[1]);}
  const rg=mx-mn, lo=mn-0.05*rg, hi=mx+0.05*rg, st=yTickStep[i];
  const yt=[]; for(let k=Math.ceil((lo-1e-9)/st);k*st<=hi+1e-9;k++) yt.push(+(k*st).toFixed(2));
  xAxes.push({type:'value',gridIndex:i,min:0,max:127,position:'bottom',
    axisLine:{show:false,onZero:false},
    axisTick:{show:true,length:3,lineStyle:{color:AX,width:0.8},customValues:xTickValues},
    axisLabel:{show:true,customValues:xTickValues,fontSize:6.5,color:'#333',margin:4,fontFamily:FONT},
    splitLine:{show:false},
    name:'Timestep',nameLocation:'middle',nameGap:13,nameTextStyle:{fontSize:6.5,color:'#333',fontFamily:FONT}});
  yAxes.push({type:'value',gridIndex:i,min:lo,max:hi,position:'left',
    axisLine:{show:false,onZero:false},
    axisTick:{show:true,length:3,lineStyle:{color:AX,width:0.8},customValues:yt},
    axisLabel:{show:true,customValues:yt,fontSize:6.5,color:'#333',margin:5,fontFamily:FONT,formatter:v=>(+v).toFixed(1)},
    splitLine:{show:false},
    name:'Saliency Score',nameLocation:'middle',nameGap:13,nameRotate:90,nameTextStyle:{fontSize:6.5,color:'#333',fontFamily:FONT}});
  series.push({type:'line',name:seriesNames[0],xAxisIndex:i,yAxisIndex:i,data:encAll[i],showSymbol:false,symbol:'none',z:3,
    lineStyle:{color:'#0000ff',width:1.1},itemStyle:{color:'#0000ff'},
    markArea:{silent:true,itemStyle:{color:SPAN,borderWidth:0},label:{show:false},
      data:boxAll[i].map(s=>[{xAxis:s[0]},{xAxis:s[1]}])}});
  series.push({type:'line',name:seriesNames[1],xAxisIndex:i,yAxisIndex:i,data:fpnAll[i],showSymbol:false,symbol:'none',z:3,
    lineStyle:{color:'#008000',width:1.1},itemStyle:{color:'#008000'}});
  series.push({type:'line',name:seriesNames[2],xAxisIndex:i,yAxisIndex:i,data:[],showSymbol:false,symbol:'none',
    lineStyle:{color:SPAN,width:0},itemStyle:{color:SPAN}});
  const lg={orient:'vertical',selectedMode:false,
    data:[{name:seriesNames[0],itemStyle:{opacity:0}},{name:seriesNames[1],itemStyle:{opacity:0}},{name:seriesNames[2],icon:'rect'}],
    itemWidth:11,itemHeight:5,itemGap:2.5,padding:[2.5,4,3,4],
    lineStyle:{width:1.4},
    textStyle:{fontSize:6.3,lineHeight:7,color:'#222',fontFamily:FONT},
    backgroundColor:'rgba(255,255,255,0.8)',borderColor:'#d0d0d0',borderWidth:0.8,borderRadius:2,z:10};
  const loc=legendLoc[i];
  if(loc==='ur'){lg.right=W-(left+GW)+3;lg.top=top+3;}
  else if(loc==='ul'){lg.left=left+3;lg.top=top+3;}
  else if(loc==='uc'){lg.left=left+GW/2-LEGW/2;lg.top=top+3;}
  else {lg.left=left+3;lg.top=top+GH-3-LEGH;}
  legends.push(lg);
}
const chart=echarts.init(document.getElementById('c'),null,{renderer:'canvas'});
chart.setOption({animation:false,backgroundColor:'#fff',textStyle:{fontFamily:FONT},
  grid:grids,xAxis:xAxes,yAxis:yAxes,series:series,legend:legends,tooltip:{show:false}});
</script></body></html>
